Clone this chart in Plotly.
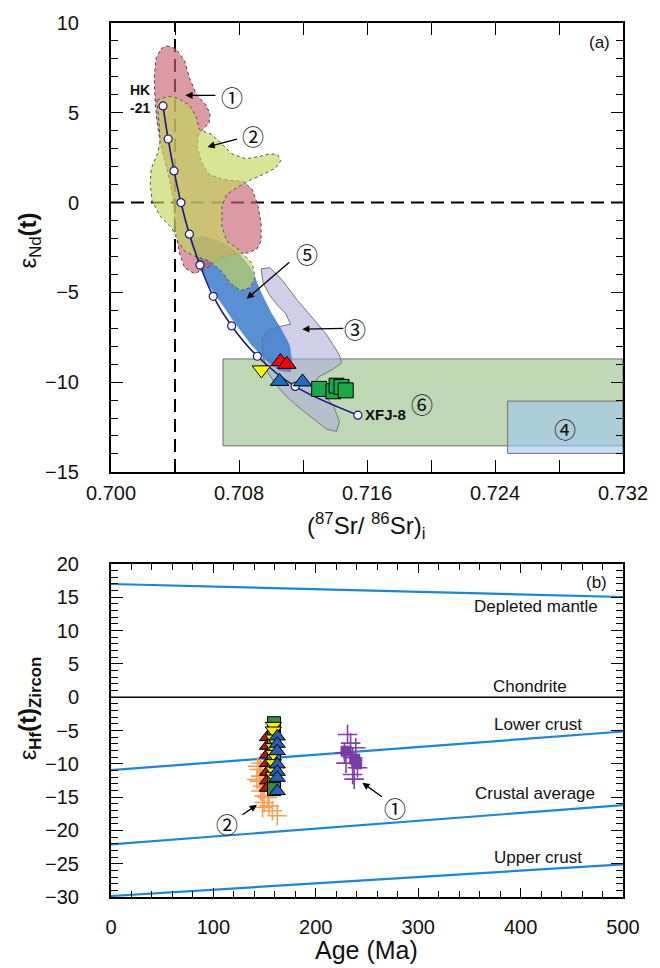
import plotly.graph_objects as go

FONT = "Liberation Sans"
CJK = "Noto Sans CJK SC"

# ---------------- Panel (a) data ----------------
sr_tickvals = [0.700, 0.704, 0.708, 0.712, 0.716, 0.720, 0.724, 0.728, 0.732]
sr_ticktext = ["0.700", "", "0.708", "", "0.716", "", "0.724", "", "0.732"]

# mixing curve HK-21 -> XFJ-8
mix_sr = [0.70325, 0.70357, 0.70394, 0.70437, 0.70490, 0.70556, 0.70639, 0.70754, 0.70915, 0.71151, 0.71543]
mix_nd = [5.38, 3.54, 1.76, 0.00, -1.76, -3.48, -5.22, -6.87, -8.56, -10.24, -11.84]

# samples
yellow_sr = [0.70940]
yellow_nd = [-9.32]
red_sr = [0.71059, 0.71099]
red_nd = [-8.86, -9.01]
blue_sr = [0.71053, 0.71197]
blue_nd = [-9.96, -9.99]
green_sr = [0.71301, 0.71390, 0.71410, 0.71441, 0.71467]
green_nd = [-10.38, -10.51, -10.20, -10.27, -10.46]

# fields
f1_sr = [0.70349, 0.70405, 0.70460, 0.70490, 0.70533, 0.70595, 0.70619, 0.70613, 0.70576, 0.70546,
         0.70539, 0.70564, 0.70613, 0.70705, 0.70828, 0.70883, 0.70920, 0.70938, 0.70938, 0.70913,
         0.70858, 0.70785, 0.70687, 0.70601, 0.70521, 0.70460, 0.70429, 0.70411, 0.70398, 0.70392,
         0.70368, 0.70337, 0.70307, 0.70288, 0.70276, 0.70270, 0.70282, 0.70313, 0.70349]
f1_nd = [8.73, 8.57, 7.90, 6.96, 6.03, 5.42, 4.92, 4.43, 4.09, 3.76,
         3.10, 2.27, 1.56, 1.28, 1.17, 0.73, -0.21, -1.15, -2.14, -2.58,
         -2.80, -2.86, -3.08, -3.63, -3.96, -3.63, -2.86, -1.98, -1.04, 0.07,
         1.17, 2.27, 3.38, 4.48, 5.58, 6.96, 8.07, 8.57, 8.73]

f2_sr = [0.70288, 0.70337, 0.70380, 0.70429, 0.70490, 0.70533, 0.70552, 0.70570, 0.70625, 0.70693,
         0.70754, 0.70840, 0.70920, 0.70993, 0.71042, 0.71061, 0.71030, 0.70962, 0.70877, 0.70797,
         0.70723, 0.70693, 0.70693, 0.70723, 0.70809, 0.70883, 0.70901, 0.70870, 0.70809, 0.70748,
         0.70687, 0.70613, 0.70521, 0.70460, 0.70417, 0.70380, 0.70307, 0.70257, 0.70245, 0.70251,
         0.70288, 0.70307, 0.70300, 0.70288]
f2_nd = [5.70, 5.86, 5.92, 5.75, 5.42, 4.76, 4.09, 3.98, 3.82, 3.27,
         2.72, 2.44, 2.55, 2.72, 2.66, 2.33, 1.94, 1.61, 1.28, 0.89,
         0.45, -0.21, -1.31, -2.14, -2.69, -3.41, -4.18, -4.74, -4.90, -4.51,
         -3.80, -3.25, -2.97, -2.69, -2.14, -1.42, -0.76, 0.07, 1.00, 1.89,
         2.66, 3.38, 4.48, 5.70]

f5_sr = [0.70503, 0.70570, 0.70674, 0.70797, 0.70877, 0.70938, 0.70999, 0.71061, 0.71116, 0.71134,
         0.71122, 0.71054, 0.70981, 0.70877, 0.70754, 0.70613, 0.70533, 0.70497, 0.70503]
f5_nd = [-1.98, -1.87, -2.14, -2.80, -3.69, -5.01, -6.11, -7.00, -7.94, -9.04,
         -9.43, -9.37, -8.87, -7.94, -6.45, -4.62, -2.97, -2.31, -1.98]

f3_sr = [0.70938, 0.70993, 0.71073, 0.71165, 0.71257, 0.71349, 0.71428, 0.71441, 0.71392, 0.71300,
         0.71275, 0.71324, 0.71392, 0.71428, 0.71410, 0.71349, 0.71244, 0.71152, 0.71073, 0.71024,
         0.70981, 0.70950, 0.70944, 0.70981, 0.71061, 0.71122, 0.71091, 0.71042, 0.70993, 0.70950,
         0.70938]
f3_nd = [-3.69, -3.63, -4.35, -5.45, -6.39, -7.38, -8.49, -8.93, -9.26, -9.70,
         -10.03, -10.58, -11.36, -12.19, -12.74, -12.63, -11.91, -11.25, -10.58, -10.03,
         -9.48, -8.60, -7.66, -7.11, -6.89, -6.78, -6.17, -5.73, -5.18, -4.46,
         -3.69]

f6_sr = [0.70700, 0.732, 0.732, 0.70700, 0.70700]
f6_nd = [-8.71, -8.71, -13.55, -13.55, -8.71]
f4_sr = [0.72479, 0.732, 0.732, 0.72479, 0.72479]
f4_nd = [-11.06, -11.06, -13.97, -13.97, -11.06]

# ---------------- Panel (b) data ----------------
ref_age = [0, 500]
dm_hf = [17.0, 15.05]
chur_hf = [0.0, 0.0]
lc_hf = [-10.95, -5.15]
ca_hf = [-22.1, -16.2]
uc_hf = [-29.85, -25.1]

or_age = [146.4, 144.8, 146.4, 144.8, 148.0, 146.4, 149.6, 152.8, 149.6, 154.4, 148.0, 157.6, 162.4, 143.2, 142.5]
or_hf = [-9.87, -10.85, -11.85, -12.6, -13.33, -14.08, -14.82, -15.07, -15.82, -16.31, -16.56, -17.05, -17.8, -10.36, -12.35]

rd_age = [152.8, 152.8, 152.8, 152.8, 152.8, 152.8, 152.8]
rd_hf = [-6.0, -7.3, -8.6, -9.9, -11.2, -12.5, -13.6]
gn_age = [159.2, 159.2, 159.2, 159.2, 159.2, 159.2, 159.2, 159.2, 159.2, 159.2]
gn_hf = [-3.9, -4.8, -6.0, -7.0, -8.2, -9.3, -10.4, -11.5, -12.6, -13.8]
yw_age = [158.5, 158.5, 158.5, 158.5, 158.5, 158.5, 158.5, 158.5]
yw_hf = [-4.3, -5.0, -6.2, -7.5, -8.5, -9.9, -11.0, -11.8]
bl_age = [162.4, 162.4, 162.4, 162.4, 162.4, 162.4, 162.4]
bl_hf = [-5.9, -7.0, -8.1, -10.1, -11.2, -12.1, -14.1]

pu_age = [231, 234, 239, 228, 236, 229.5, 240.7, 236, 237.5]
pu_hf = [-5.6, -6.9, -7.6, -8.4, -9.1, -9.9, -10.6, -11.6, -12.3]
pq_age = [229.5, 238, 240]
pq_hf = [-8.1, -9.3, -10.0]

fig = go.Figure()

def add(tr):
    fig.add_trace(tr)

# dashed reference lines (under fields)
add(go.Scatter(x=[0.704, 0.704], y=[-15, 10], mode="lines",
               line=dict(color="black", width=2, dash="13px,7px"), xaxis="x", yaxis="y"))
add(go.Scatter(x=[0.700, 0.732], y=[0, 0], mode="lines",
               line=dict(color="black", width=2, dash="13px,7px"), xaxis="x", yaxis="y"))

# fields
add(go.Scatter(x=f6_sr, y=f6_nd, fill="toself", fillcolor="rgb(190,216,182)", mode="lines",
               line=dict(color="#6e6e6e", width=1), xaxis="x", yaxis="y"))
add(go.Scatter(x=f4_sr, y=f4_nd, fill="toself", fillcolor="rgba(160,200,240,0.6)", mode="lines",
               line=dict(color="#6e6e6e", width=1), xaxis="x", yaxis="y"))
add(go.Scatter(x=f3_sr, y=f3_nd, fill="toself", fillcolor="rgba(175,175,220,0.6)", mode="lines",
               line=dict(color="#777777", width=1), xaxis="x", yaxis="y"))
add(go.Scatter(x=f5_sr, y=f5_nd, fill="toself", fillcolor="rgba(60,125,205,0.85)", mode="lines",
               line=dict(color="rgba(60,125,205,0.6)", width=0.5), xaxis="x", yaxis="y"))
add(go.Scatter(x=f1_sr, y=f1_nd, fill="toself", fillcolor="rgba(200,100,115,0.65)", mode="lines",
               line=dict(color="#444444", width=1, dash="dot"), xaxis="x", yaxis="y"))
add(go.Scatter(x=f2_sr, y=f2_nd, fill="toself", fillcolor="rgba(195,215,90,0.65)", mode="lines",
               line=dict(color="#555555", width=1, dash="dot"), xaxis="x", yaxis="y"))

# mixing curve
add(go.Scatter(x=mix_sr, y=mix_nd, mode="lines+markers", line=dict(color="#1a1a80", width=1.6, shape="spline"),
               marker=dict(symbol="circle", size=8, color="white", line=dict(color="#1a1a80", width=1.2)),
               xaxis="x", yaxis="y"))

# samples
add(go.Scatter(x=yellow_sr, y=yellow_nd, mode="markers",
               marker=dict(symbol="triangle-down", size=16, color="#ffff00", line=dict(color="black", width=1)),
               xaxis="x", yaxis="y"))
add(go.Scatter(x=red_sr, y=red_nd, mode="markers",
               marker=dict(symbol="triangle-up", size=16, color="#ff0000", line=dict(color="black", width=1)),
               xaxis="x", yaxis="y"))
add(go.Scatter(x=blue_sr, y=blue_nd, mode="markers",
               marker=dict(symbol="triangle-up", size=16, color="#1f6fc8", line=dict(color="black", width=1)),
               xaxis="x", yaxis="y"))
add(go.Scatter(x=green_sr, y=green_nd, mode="markers",
               marker=dict(symbol="square", size=15, color="#16ab4a", line=dict(color="black", width=1)),
               xaxis="x", yaxis="y"))

# ---------------- Panel (b) traces ----------------
line_blue = "#1a87d6"
for hf in [dm_hf, lc_hf, ca_hf, uc_hf]:
    add(go.Scatter(x=ref_age, y=hf, mode="lines", line=dict(color=line_blue, width=2.2),
                   xaxis="x2", yaxis="y2"))
add(go.Scatter(x=ref_age, y=chur_hf, mode="lines", line=dict(color="black", width=1.6),
               xaxis="x2", yaxis="y2"))

add(go.Scatter(x=or_age, y=or_hf, mode="markers",
               marker=dict(symbol="cross-thin", size=14, line=dict(color="#f7a052", width=1.6)),
               xaxis="x2", yaxis="y2"))
add(go.Scatter(x=rd_age, y=rd_hf, mode="markers",
               marker=dict(symbol="triangle-up", size=14, color="#b3141c", line=dict(color="black", width=1)),
               xaxis="x2", yaxis="y2"))
add(go.Scatter(x=gn_age, y=gn_hf, mode="markers",
               marker=dict(symbol="square", size=13, color="#3c8a3c", line=dict(color="black", width=1)),
               xaxis="x2", yaxis="y2"))
add(go.Scatter(x=yw_age, y=yw_hf, mode="markers",
               marker=dict(symbol="triangle-down", size=14, color="#ffee00", line=dict(color="black", width=1)),
               xaxis="x2", yaxis="y2"))
add(go.Scatter(x=bl_age, y=bl_hf, mode="markers",
               marker=dict(symbol="triangle-up", size=14, color="#2a5fb8", line=dict(color="black", width=1)),
               xaxis="x2", yaxis="y2"))
add(go.Scatter(x=pu_age, y=pu_hf, mode="markers",
               marker=dict(symbol="cross-thin", size=14, line=dict(color="#8040a8", width=1.6)),
               xaxis="x2", yaxis="y2"))
add(go.Scatter(x=pq_age, y=pq_hf, mode="markers",
               marker=dict(symbol="square", size=10, color="#7b3aa6", line=dict(color="#7b3aa6", width=1)),
               xaxis="x2", yaxis="y2"))

# ---------------- annotations ----------------
ann = []

def arrow(x0, y0, x1, y1, xr, yr):
    ann.append(dict(x=x1, y=y1, ax=x0, ay=y0, xref=xr, yref=yr, axref=xr, ayref=yr, text="",
                    showarrow=True, arrowhead=2, arrowsize=1.1, arrowwidth=1.3, arrowcolor="black"))

def label(x, y, t, xr, yr, size=22, fam=CJK, xanchor="center", yanchor="middle", **kw):
    ann.append(dict(x=x, y=y, xref=xr, yref=yr, text=t, showarrow=False,
                    xanchor=xanchor, yanchor=yanchor,
                    font=dict(family=fam, size=size, color="#111"), **kw))

# panel a
arrow(0.70662, 5.97, 0.70465, 5.97, "x", "y")
label(0.70756, 5.95, "①", "x", "y")
arrow(0.70797, 3.56, 0.70603, 3.10, "x", "y")
label(0.70888, 3.75, "②", "x", "y")
arrow(0.71124, -3.25, 0.70848, -5.36, "x", "y")
label(0.71226, -2.79, "⑤", "x", "y")
arrow(0.71461, -7.01, 0.71195, -7.05, "x", "y")
label(0.71522, -7.01, "③", "x", "y")
label(0.71941, -11.15, "⑥", "x", "y")
label(0.72840, -12.53, "④", "x", "y")
label(0.70259, 5.75, "<b>HK<br>-21</b>", "x", "y", size=14, fam=FONT, xanchor="right", align="left")
label(0.71575, -11.8, "<b>XFJ-8</b>", "x", "y", size=15, fam=FONT, xanchor="left")
label(0.73053, 8.9, "(a)", "x", "y", size=17, fam=FONT)

# panel b
arrow(266, -15.1, 245.5, -12.85, "x2", "y2")
label(277, -16.46, "①", "x2", "y2")
arrow(126.9, -17.8, 142.5, -16.16, "x2", "y2")
label(113.5, -18.94, "②", "x2", "y2")
label(474, 17.2, "(b)", "x2", "y2", size=17, fam=FONT)
label(414.9, 13.56, "Depleted mantle", "x2", "y2", size=17, fam=FONT)
label(409.2, 1.65, "Chondrite", "x2", "y2", size=17, fam=FONT)
label(417.2, -4.15, "Lower crust", "x2", "y2", size=17, fam=FONT)
label(414.0, -14.42, "Crustal average", "x2", "y2", size=17, fam=FONT)
label(417.2, -24.1, "Upper crust", "x2", "y2", size=17, fam=FONT)

# axis titles
def title(x, y, t, size, angle=0):
    ann.append(dict(x=x, y=y, xref="paper", yref="paper", showarrow=False, textangle=angle,
                    xanchor="center", yanchor="middle", text=t,
                    font=dict(family=FONT, size=size, color="#111")))

title(-0.159, 0.7506, "ε<sub>Nd</sub><b>(t)</b>", 24, -90)
title(0.499, 0.425, "(<sup>87</sup>Sr/ <sup>86</sup>Sr)<sub>i</sub>", 24)
title(-0.159, 0.2154, "ε<sub><b>Hf</b></sub><b>(t)</b><sub><b>Zircon</b></sub>", 24, -90)
title(0.499, -0.061, "Age (Ma)", 25)

axis_common = dict(showline=True, linecolor="black", linewidth=2, mirror="allticks", ticks="inside",
                   tickcolor="black", tickwidth=1.4, showgrid=False, zeroline=False,
                   tickfont=dict(family=FONT, size=20, color="#111"))

fig.update_layout(
    width=660, height=968, margin=dict(l=111, r=28, t=15, b=71),
    paper_bgcolor="white", plot_bgcolor="white", showlegend=False,
    font=dict(family=FONT, color="#111"),
    xaxis=dict(domain=[0, 1], anchor="y", range=[0.700, 0.732], tickvals=sr_tickvals, ticktext=sr_ticktext,
               ticklen=12, ticklabelstandoff=2, **axis_common),
    yaxis=dict(domain=[0.4864, 1], anchor="x", range=[-15, 10], dtick=5, tick0=0, ticklen=12,
               ticklabelstandoff=26,
               minor=dict(dtick=1, ticklen=7, ticks="inside", tickcolor="black", tickwidth=1.3), **axis_common),
    xaxis2=dict(domain=[0, 1], anchor="y2", range=[0, 500], dtick=100, ticklen=9, ticklabelstandoff=11,
                minor=dict(dtick=20, ticklen=6, ticks="inside", tickcolor="black", tickwidth=1.2), **axis_common),
    yaxis2=dict(domain=[0, 0.381], anchor="x2", range=[-30, 20], dtick=5, ticklen=12, ticklabelstandoff=26,
                minor=dict(dtick=1, ticklen=7, ticks="inside", tickcolor="black", tickwidth=1.2), **axis_common),
    annotations=ann,
)

fig.write_html("out.html")
